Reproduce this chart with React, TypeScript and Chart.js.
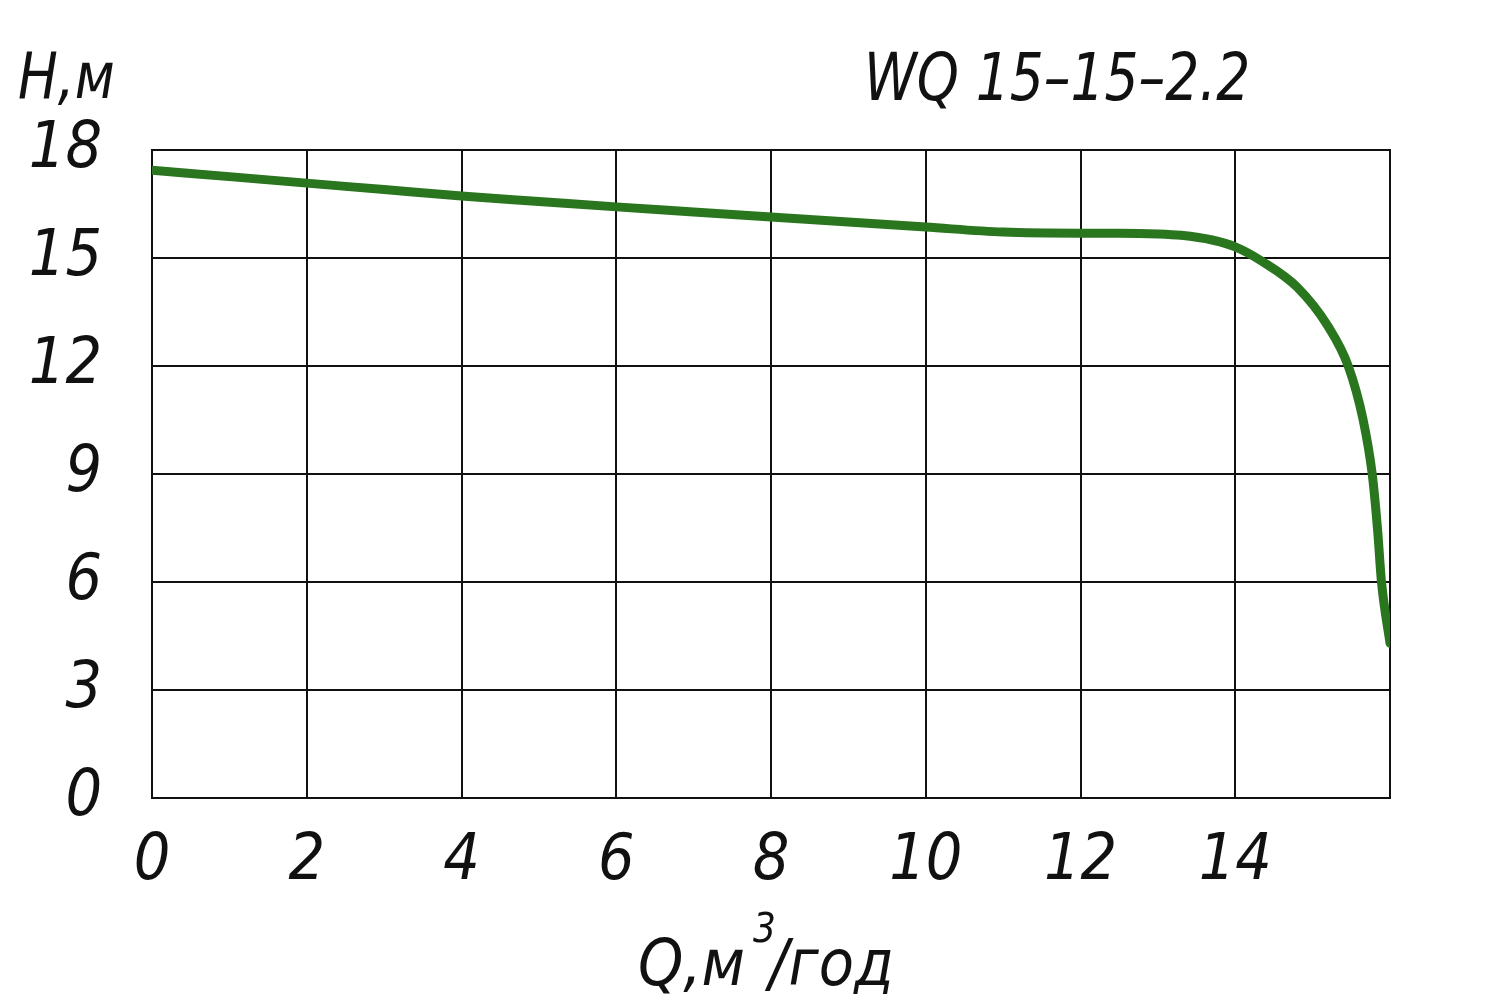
import React, { useEffect, useRef } from "react";
import { Chart, registerables } from "chart.js";

Chart.register(...registerables);

const flowQ = [0, 1, 2, 3, 4, 5, 6, 7, 8, 9, 10, 11, 12, 12.5, 13, 13.3, 13.7, 14, 14.36, 14.8, 15.2, 15.46, 15.65, 15.77, 15.84, 15.89, 16];
const headH = [17.44, 17.26, 17.08, 16.9, 16.72, 16.57, 16.42, 16.28, 16.14, 16.0, 15.86, 15.72, 15.69, 15.69, 15.67, 15.63, 15.5, 15.31, 14.89, 14.19, 13.1, 12.0, 10.53, 9.0, 7.44, 6.0, 4.3];
const xTickLabels = ["0", "2", "4", "6", "8", "10", "12", "14", ""];
const yTickLabels = ["0", "3", "6", "9", "12", "15", "18"];
const chartTitle = "WQ 15–15–2.2";
const yTitle = "H,м";
const xTitleMain = "Q,м";
const xTitleSup = "3";
const xTitleRest = "/год";

const FONT = "'Liberation Sans Narrow', 'DejaVu Sans Condensed', 'Liberation Sans', sans-serif";

const textPlugin = {
  id: "texts",
  afterDraw(chart: any) {
    const ctx = chart.ctx;
    ctx.save();
    ctx.fillStyle = "#111";
    ctx.textBaseline = "alphabetic";
    ctx.textAlign = "left";
    // chart title
    ctx.save();
    ctx.translate(864, 100);
    ctx.scale(0.9, 1);
    ctx.font = `italic 66px ${FONT}`;
    ctx.fillText(chartTitle, 0, 0);
    ctx.restore();
    // y axis title
    ctx.save();
    ctx.translate(18, 98);
    ctx.scale(0.92, 1);
    ctx.font = `italic 64px ${FONT}`;
    ctx.fillText(yTitle, 0, 0);
    ctx.restore();
    // x axis title
    ctx.font = `italic 64px ${FONT}`;
    let x = 638;
    ctx.fillText(xTitleMain, x, 985);
    x += ctx.measureText(xTitleMain).width + 2;
    ctx.font = `italic 40px ${FONT}`;
    ctx.fillText(xTitleSup, x + 6, 942);
    x += 22;
    ctx.font = `italic 64px ${FONT}`;
    ctx.fillText(xTitleRest, x, 985);
    ctx.restore();
  },
};

export default function App() {
  const ref = useRef<HTMLCanvasElement>(null);
  useEffect(() => {
    if (!ref.current) return;
    const chart = new Chart(ref.current, {
      type: "line",
      data: {
        datasets: [
          {
            data: flowQ.map((q, i) => ({ x: q, y: headH[i] })),
            borderColor: "#2a761f",
            borderWidth: 9,
            pointRadius: 0,
            cubicInterpolationMode: "monotone",
            borderCapStyle: "round",
            borderJoinStyle: "round",
            fill: false,
          },
        ],
      },
      options: {
        animation: false,
        responsive: false,
        maintainAspectRatio: false,
        layout: { padding: { top: 150, right: 98, left: 0, bottom: 0 } },
        plugins: { legend: { display: false }, tooltip: { enabled: false }, title: { display: false } },
        scales: {
          x: {
            type: "linear",
            min: 0,
            max: 16,
            afterFit: (s: any) => {
              s.height = 202;
            },
            ticks: {
              stepSize: 2,
              padding: 26,
              color: "#111",
              font: { family: FONT, size: 64, style: "italic" },
              callback: (v: any) => xTickLabels[Math.round(Number(v) / 2)] ?? "",
              maxRotation: 0,
              autoSkip: false,
            },
            grid: { color: "#111", lineWidth: 2, drawTicks: false },
            border: { color: "#111", width: 2 },
          },
          y: {
            type: "linear",
            min: 0,
            max: 18,
            afterFit: (s: any) => {
              s.width = 152;
            },
            ticks: {
              stepSize: 3,
              padding: 50,
              color: "#111",
              font: { family: FONT, size: 64, style: "italic" },
              callback: (v: any) => yTickLabels[Math.round(Number(v) / 3)] ?? "",
              autoSkip: false,
            },
            grid: { color: "#111", lineWidth: 2, drawTicks: false },
            border: { color: "#111", width: 2 },
          },
        },
      },
      plugins: [
        textPlugin,
        {
          id: "frame",
          beforeDatasetsDraw(c: any) {
            const { left, right, top, bottom } = c.chartArea;
            const ctx = c.ctx;
            ctx.save();
            ctx.strokeStyle = "#111";
            ctx.lineWidth = 2;
            ctx.strokeRect(left, top, right - left, bottom - top);
            ctx.restore();
          },
        },
      ],
    } as any);
    return () => chart.destroy();
  }, []);
  return (
    <div style={{ position: "absolute", left: 0, top: 0, width: 1488, height: 1000, background: "#fff" }}>
      <canvas ref={ref} width={1488} height={1000} style={{ width: 1488, height: 1000 }} />
    </div>
  );
}
